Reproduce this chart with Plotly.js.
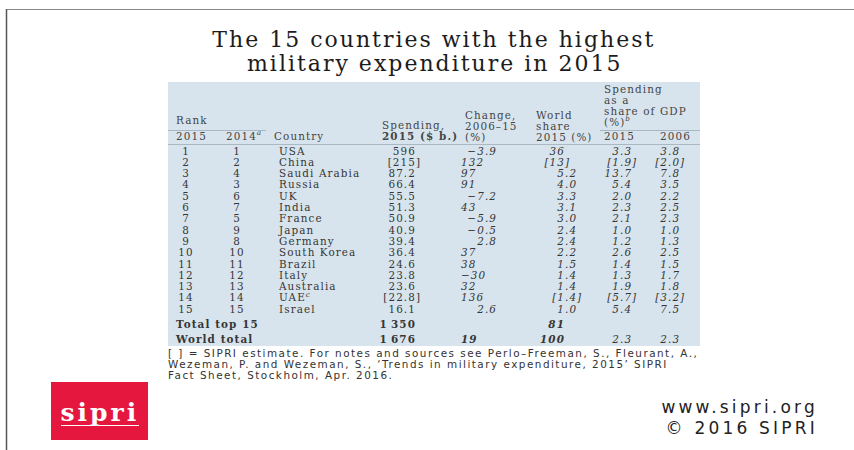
<!DOCTYPE html>
<html><head><meta charset="utf-8">
<script src="https://cdn.plot.ly/plotly-3.0.1.min.js"></script>
<style>
html,body{margin:0;padding:0;background:#fff;overflow:hidden;}
#chart{width:854px;height:450px;}
.gtitle{letter-spacing:2px;}
.textpoint text{letter-spacing:1.1px;}
.annotation[data-index="0"] text,.annotation[data-index="1"] text,.annotation[data-index="2"] text{letter-spacing:1.5px;}
.annotation[data-index="3"] text,.annotation[data-index="4"] text{letter-spacing:3.2px;}
.annotation[data-index="5"] text{letter-spacing:3px;}
.annotation[data-index="6"] text{letter-spacing:2px;}
</style>
</head><body><div id="chart"></div>
<script>
// ---------- data ----------
const rank2015 = ['1','2','3','4','5','6','7','8','9','10','11','12','13','14','15'];
const rank2014 = ['1','2','4','3','6','7','5','9','8','10','11','12','13','14','15'];
const countries = ['USA','China','Saudi Arabia','Russia','UK','India','France','Japan','Germany','South Korea','Brazil','Italy','Australia','UAE<sup><i>c</i></sup>','Israel'];
const spending = ['596','[215]','87.2','66.4','55.5','51.3','50.9','40.9','39.4','36.4','24.6','23.8','23.6','[22.8]','16.1'];
const change = ['\u22123.9','132','97','91','\u22127.2','43','\u22125.9','\u22120.5','2.8','37','38','\u221230','32','136','2.6'];
const worldShare = ['36','[13]','5.2','4.0','3.3','3.1','3.0','2.4','2.4','2.2','1.5','1.4','1.4','[1.4]','1.0'];
const gdp2015 = ['3.3','[1.9]','13.7','5.4','2.0','2.3','2.1','1.0','1.2','2.6','1.4','1.3','1.9','[5.7]','5.4'];
const gdp2006 = ['3.8','[2.0]','7.8','3.5','2.2','2.5','2.3','1.0','1.3','2.5','1.5','1.7','1.8','[3.2]','7.5'];
const totalLabels = ['Total top 15','World total'];
const totalSpending = ['1\u2009350','1\u2009676'];
const totalChange = ['','19'];
const totalShare = ['81','100'];
const totalGdp2015 = ['','2.3'];
const totalGdp2006 = ['','2.3'];
const headerLines = ['Rank','2015','2014<sup><i>a</i></sup>','Country','Spending,','<b>2015 ($ b.)</b>',
  'Change,','2006\u201315','(%)','World','share','2015 (%)',
  'Spending','as a','share of GDP','(%)<sup><i>b</i></sup>','2015','2006'];
const titleLines = ['The 15 countries with the highest','military expenditure in 2015'];
const footnoteLines = [
  '[ ] = SIPRI estimate. For notes and sources see Perlo\u2013Freeman, S., Fleurant, A.,',
  'Wezeman, P. and Wezeman, S., \u2018Trends in military expenditure, 2015\u2019 SIPRI',
  'Fact Sheet, Stockholm, Apr. 2016.'];
const brandLines = ['www.sipri.org','\u00a9 2016 SIPRI'];
const logoText = 'sipri';

// ---------- layout geometry (positions/styles) ----------
const headerPos = [[176,121],[176,137],[226,137],[274,137],[382,126],[382,137],
  [465,116],[465,127],[465,138],[536,116],[536,127],[536,138],
  [604,90],[604,101],[604,112],[604,123],[604,137],[660,137]];
const ROW0 = 152, ROWH = 11.3;
const TOT_Y = [325, 340];
const COL = {r15:186, r14:237, country:279, spend:416, chgL:461, chgR:497, share:565, g15:620, g06:668};
const SERIF = 'DejaVu Serif';
const TXT = '#363636';

const rowY = countries.map((_, i) => ROW0 + i * ROWH);
const same = (v, n) => Array(n).fill(v);

function tt(xs, ys, texts, pos, font) {
  const keep = texts.map((t, i) => t !== '' ? i : -1).filter(i => i >= 0);
  return {type:'scatter', mode:'text', x:keep.map(i => xs[i]), y:keep.map(i => ys[i]), text:keep.map(i => texts[i]),
    textposition:pos, textfont:Object.assign({family:SERIF, size:10.4, color:TXT}, font || {}),
    hoverinfo:'skip', showlegend:false, cliponaxis:false};
}
function splitDec(v) {
  const m = v.match(/^(.*?)(\.\d+)?(\])?$/);
  return [m[1], (m[2] || '') + (m[3] || '')];
}
function splitTail(v) { return v.endsWith(']') ? [v.slice(0, -1), ']'] : [v, '']; }

function decimalCol(x, ys, vals, font) {
  const parts = vals.map(splitDec);
  return [tt(same(x, vals.length), ys, parts.map(p => p[0]), 'middle left', font),
          tt(same(x, vals.length), ys, parts.map(p => p[1]), 'middle right', font)];
}
function rightCol(x, ys, vals, font) {
  const parts = vals.map(splitTail);
  return [tt(same(x, vals.length), ys, parts.map(p => p[0]), 'middle left', font),
          tt(same(x, vals.length), ys, parts.map(p => p[1]), 'middle right', font)];
}
function changeCol(ys, vals, font) {
  return [tt(same(COL.chgL, vals.length), ys, vals.map(v => v.includes('.') ? '' : v), 'middle right', font),
          tt(same(COL.chgR, vals.length), ys, vals.map(v => v.includes('.') ? v : ''), 'middle left', font)];
}

const N = countries.length;
const IT = {style:'italic'};
const ITB = {style:'italic', weight:'bold'};
const traces = [
  tt(headerPos.map(p => p[0]), headerPos.map(p => p[1]), headerLines, 'middle right', {color:'#444'}),
  tt(same(COL.r15, N), rowY, rank2015, 'middle center'),
  tt(same(COL.r14, N), rowY, rank2014, 'middle center'),
  tt(same(COL.country, N), rowY, countries, 'middle right'),
  ...rightCol(COL.spend, rowY, spending),
  ...changeCol(rowY, change, IT),
  ...decimalCol(COL.share, rowY, worldShare, IT),
  ...decimalCol(COL.g15, rowY, gdp2015, IT),
  ...decimalCol(COL.g06, rowY, gdp2006, IT),
  tt(same(176, 2), TOT_Y, totalLabels, 'middle right', {weight:'bold'}),
  ...rightCol(COL.spend, TOT_Y, totalSpending, {weight:'bold'}),
  ...changeCol(TOT_Y, totalChange, ITB),
  ...decimalCol(COL.share, TOT_Y, totalShare, ITB),
  ...decimalCol(COL.g15, TOT_Y, totalGdp2015, IT),
  ...decimalCol(COL.g06, TOT_Y, totalGdp2006, IT)
];

const shapes = [
  {type:'rect', xref:'x', yref:'y', x0:168, x1:700, y0:82, y1:346, fillcolor:'#d8e4ed', line:{width:0}, layer:'below'},
  {type:'line', xref:'x', yref:'y', x0:168, x1:266, y0:130.5, y1:130.5, line:{color:'#aab8c4', width:1}, layer:'below'},
  {type:'line', xref:'x', yref:'y', x0:600, x1:700, y0:130.5, y1:130.5, line:{color:'#aab8c4', width:1}, layer:'below'},
  {type:'line', xref:'x', yref:'y', x0:168, x1:700, y0:144.5, y1:144.5, line:{color:'#aab8c4', width:1}, layer:'below'},
  {type:'line', xref:'x', yref:'y', x0:6, x1:854, y0:9.5, y1:9.5, line:{color:'#8a8a8a', width:1}, layer:'below'},
  {type:'line', xref:'x', yref:'y', x0:6.5, x1:6.5, y0:9, y1:450, line:{color:'#555', width:1.5}, layer:'below'},
  {type:'rect', xref:'x', yref:'y', x0:51, x1:148, y0:382, y1:440, fillcolor:'#e5173f', line:{width:0}, layer:'below'},
  {type:'line', xref:'x', yref:'y', x0:61, x1:139, y0:425.5, y1:425.5, line:{color:'#ffffff', width:1}, layer:'above'}
];

const annotations = [
  ...footnoteLines.map((t, i) => ({xref:'x', yref:'y', x:166, y:353 + i * 11, text:t, showarrow:false,
    xanchor:'left', yanchor:'middle', align:'left', font:{family:'DejaVu Sans', size:10.4, color:'#333'}})),
  ...brandLines.map((t, i) => ({xref:'x', yref:'y', x:820, y:407 + i * 21, text:t, showarrow:false,
    xanchor:'right', yanchor:'middle', align:'right', font:{family:'DejaVu Sans', size:17, color:'#222'}})),
  {xref:'x', yref:'y', x:100, y:412, text:'<b>' + logoText + '</b>', showarrow:false, xanchor:'center', yanchor:'middle',
    font:{family:SERIF, size:25, color:'#ffffff'}},
  {xref:'x', yref:'y', x:434, y:63.5, text:titleLines[1], showarrow:false, xanchor:'center', yanchor:'middle',
    font:{family:SERIF, size:22, color:'#1c1c1c'}}
];

const layout = {
  width:854, height:450, margin:{l:0, r:0, t:0, b:0, pad:0},
  paper_bgcolor:'#ffffff', plot_bgcolor:'#ffffff', showlegend:false,
  title:{text:titleLines[0], font:{family:SERIF, size:22, color:'#1c1c1c'},
    x:0.508, xanchor:'center', xref:'paper', y:1 - 39.5 / 450, yanchor:'middle', yref:'container'},
  xaxis:{range:[0, 854], visible:false, fixedrange:true},
  yaxis:{range:[450, 0], visible:false, fixedrange:true},
  shapes:shapes, annotations:annotations
};
Plotly.newPlot('chart', traces, layout, {staticPlot:true, displayModeBar:false});
</script>
</body></html>
